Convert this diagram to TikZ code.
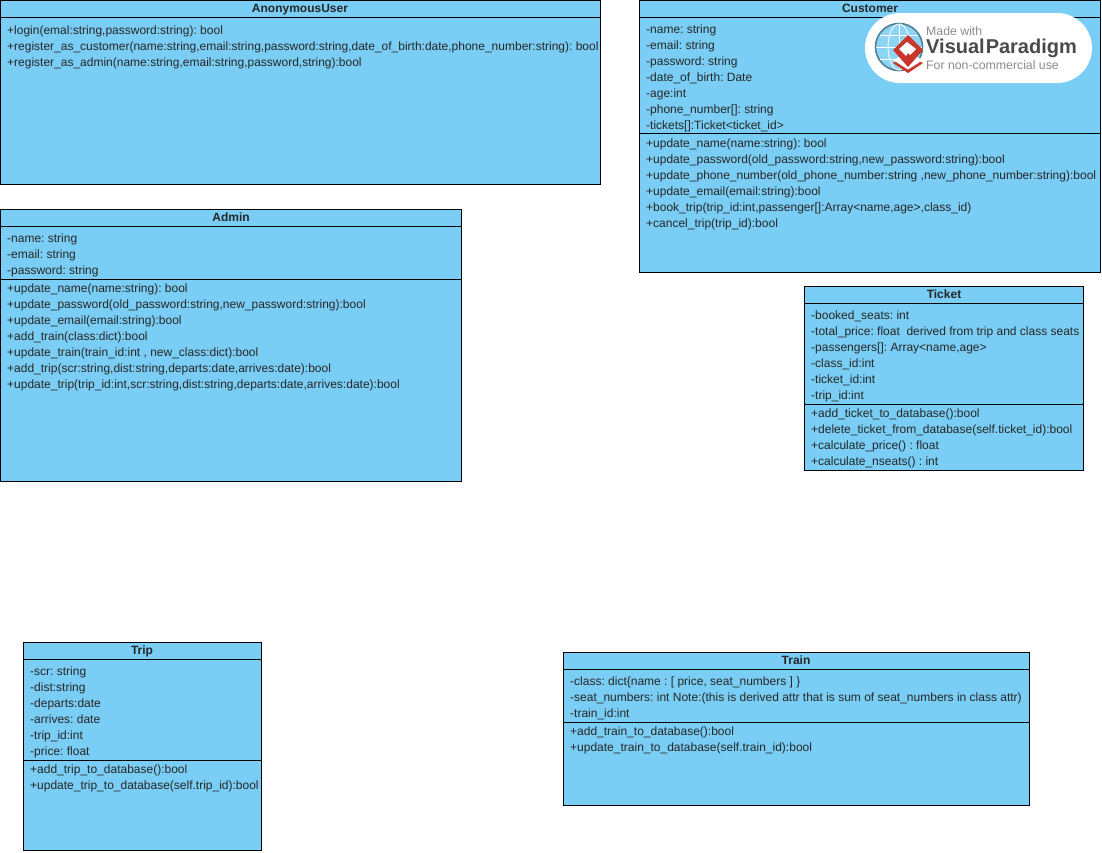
\documentclass[tikz,border=0pt]{standalone}
\usepackage{fontspec}
\setmainfont{Liberation Sans}
\definecolor{umlfill}{HTML}{7ACEF5}
\definecolor{logogray}{HTML}{4A4A4A}
\definecolor{logolight}{HTML}{8C8C8C}
\definecolor{logored}{HTML}{C9352B}
\definecolor{logoteal}{HTML}{4F8193}
\definecolor{logoblue}{HTML}{8ED4F5}
\tikzset{
  classbox/.style={draw=black, line width=1pt, fill=umlfill, inner sep=0pt, outer sep=0pt, anchor=north west},
  classtitle/.style={font=\fontsize{12}{14}\selectfont\bfseries, inner sep=0pt, text=black!85, anchor=base},
  members/.style={font=\fontsize{12}{16}\selectfont\frenchspacing, anchor=north west, align=left, inner sep=0pt, text=black!85},
  umlline/.style={line width=1pt, draw=black},
  logotext/.style={anchor=west, inner sep=0pt, text=logolight, font=\fontsize{12.3}{14}\selectfont},
}
\begin{document}
\begin{tikzpicture}[x=1pt,y=-1pt]
\useasboundingbox (0,0) rectangle (1102,852);
\fill[white] (0,0) rectangle (1102,852);

% AnonymousUser
\node[classbox, minimum width=600pt, minimum height=183.5pt] (anon) at (0,0.5) {};
\node[classtitle] (anontitle) at (300,12) {AnonymousUser};
\draw[umlline] (anon.west |- 0,17) -- (anon.east |- 0,17);
\node[members] (anonops) at (7,26) {+login(emal:string,password:string): bool\\
+register\_as\_customer(name:string,email:string,password:string,date\_of\_birth:date,phone\_number:string): bool\\
+register\_as\_admin(name:string,email:string,password,string):bool};

% Customer
\node[classbox, minimum width=461pt, minimum height=271.5pt] (customer) at (639.5,0.5) {};
\node[classtitle] (customertitle) at (870,12) {Customer};
\draw[umlline] (customer.west |- 0,17) -- (customer.east |- 0,17);
\draw[umlline] (customer.west |- 0,133) -- (customer.east |- 0,133);
\node[members] (customerattrs) at (646,25) {-name: string\\
-email: string\\
-password: string\\
-date\_of\_birth: Date\\
-age:int\\
-phone\_number[]: string\\
-tickets[]:Ticket<ticket\_id>};
\node[members] (customerops) at (646,139) {+update\_name(name:string): bool\\
+update\_password(old\_password:string,new\_password:string):bool\\
+update\_phone\_number(old\_phone\_number:string ,new\_phone\_number:string):bool\\
+update\_email(email:string):bool\\
+book\_trip(trip\_id:int,passenger[]:Array<name,age>,class\_id)\\
+cancel\_trip(trip\_id):bool};

% Admin
\node[classbox, minimum width=461pt, minimum height=272pt] (admin) at (0.5,209.5) {};
\node[classtitle] (admintitle) at (231,221) {Admin};
\draw[umlline] (admin.west |- 0,226) -- (admin.east |- 0,226);
\draw[umlline] (admin.west |- 0,279) -- (admin.east |- 0,279);
\node[members] (adminattrs) at (7,234) {-name: string\\
-email: string\\
-password: string};
\node[members] (adminops) at (7,284) {+update\_name(name:string): bool\\
+update\_password(old\_password:string,new\_password:string):bool\\
+update\_email(email:string):bool\\
+add\_train(class:dict):bool\\
+update\_train(train\_id:int , new\_class:dict):bool\\
+add\_trip(scr:string,dist:string,departs:date,arrives:date):bool\\
+update\_trip(trip\_id:int,scr:string,dist:string,departs:date,arrives:date):bool};

% Ticket
\node[classbox, minimum width=279pt, minimum height=184pt] (ticket) at (804.5,286.5) {};
\node[classtitle] (tickettitle) at (944,298) {Ticket};
\draw[umlline] (ticket.west |- 0,303) -- (ticket.east |- 0,303);
\draw[umlline] (ticket.west |- 0,404) -- (ticket.east |- 0,404);
\node[members] (ticketattrs) at (811,311) {-booked\_seats: int\\
-total\_price: float\ \ derived from trip and class seats\\
-passengers[]: Array<name,age>\\
-class\_id:int\\
-ticket\_id:int\\
-trip\_id:int};
\node[members] (ticketops) at (811,409) {+add\_ticket\_to\_database():bool\\
+delete\_ticket\_from\_database(self.ticket\_id):bool\\
+calculate\_price() : float\\
+calculate\_nseats() : int};

% Trip
\node[classbox, minimum width=238pt, minimum height=208pt] (trip) at (23.5,642.5) {};
\node[classtitle] (triptitle) at (142,654) {Trip};
\draw[umlline] (trip.west |- 0,659) -- (trip.east |- 0,659);
\draw[umlline] (trip.west |- 0,760) -- (trip.east |- 0,760);
\node[members] (tripattrs) at (30,667) {-scr: string\\
-dist:string\\
-departs:date\\
-arrives: date\\
-trip\_id:int\\
-price: float};
\node[members] (tripops) at (30,765) {+add\_trip\_to\_database():bool\\
+update\_trip\_to\_database(self.trip\_id):bool};

% Train
\node[classbox, minimum width=466pt, minimum height=153pt] (train) at (563.5,652.5) {};
\node[classtitle] (traintitle) at (796,664) {Train};
\draw[umlline] (train.west |- 0,669) -- (train.east |- 0,669);
\draw[umlline] (train.west |- 0,722) -- (train.east |- 0,722);
\node[members] (trainattrs) at (570,677) {-class: dict\{name : [ price, seat\_numbers ] \}\\
-seat\_numbers: int Note:(this is derived attr that is sum of seat\_numbers in class attr)\\
-train\_id:int};
\node[members] (trainops) at (570,727) {+add\_train\_to\_database():bool\\
+update\_train\_to\_database(self.train\_id):bool};

% Watermark
\fill[white, rounded corners=35pt] (865,13) rectangle (1092,83);
\fill[logoblue] (899,47) circle (23);
\draw[logoteal, line width=1.6pt] (899,47) circle (23.5);
\draw[white, line width=0.8pt] (876,47) -- (922,47) (899,24) -- (899,70);
\draw[white, line width=0.8pt] (899,47) ellipse (11 and 23);
\draw[white, line width=0.8pt] (880,35) -- (918,35) (880,59) -- (918,59);
\fill[logored] (908,56) -- (923,63) -- (908,73) -- (893,63) -- cycle;
\fill[white] (908,53) -- (923,60) -- (908,69.5) -- (893,60) -- cycle;
\fill[logored] (908,35) -- (923,50) -- (908,67) -- (893,50) -- cycle;
\fill[white] (907,42) -- (916,49) -- (910,55) -- (908,53) -- (906,56) -- (899,49) -- cycle;
\node[logotext] (logotop) at (926,31) {Made with};
\node[anchor=west, inner sep=0pt, text=logogray, font=\fontsize{20}{24}\selectfont\bfseries] (logomain) at (926,48) {Visual\kern1pt Paradigm};
\node[logotext] (logobottom) at (926,65) {For non-commercial use};
\end{tikzpicture}
\end{document}
